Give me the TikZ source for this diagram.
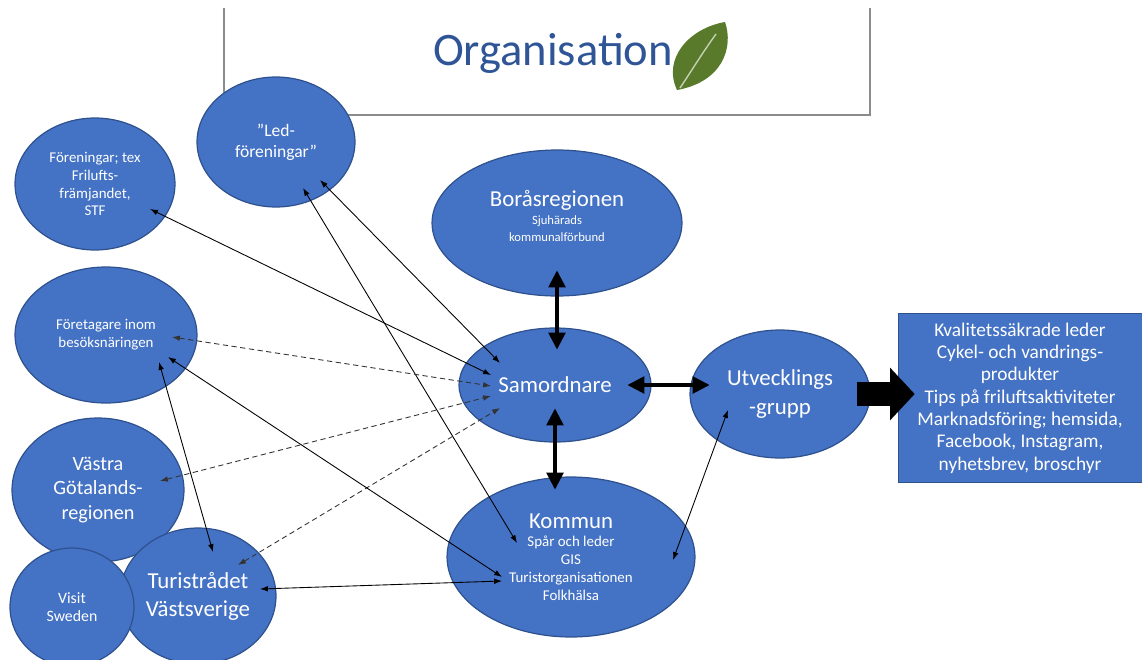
\documentclass[tikz,border=0pt]{standalone}
\usepackage{fontspec}
\setmainfont{Carlito}
\usetikzlibrary{shapes,arrows.meta,calc}
\definecolor{blobblue}{HTML}{4472C4}
\definecolor{blobedge}{HTML}{2F528F}
\definecolor{titleblue}{HTML}{2F5597}
\definecolor{leafgreen}{HTML}{587A2A}
\definecolor{framegray}{HTML}{8C8C8C}
\tikzset{
    blob/.style 2 args={ellipse, draw=blobedge, fill=blobblue, text=white, align=center,
        inner sep=0pt, line width=0.7pt, minimum width=#1*0.04cm, minimum height=#2*0.04cm},
    prodbox/.style={rectangle, draw=blobedge, fill=blobblue, text=white, align=center,
        inner sep=0pt, minimum width=244*0.02cm, minimum height=169*0.02cm,
        font=\fontsize{11}{12.7}\selectfont},
    smalltext/.style={font=\fontsize{8.5}{10.2}\selectfont},
    bigtext/.style={font=\fontsize{13}{16}\selectfont},
    titletext/.style={text=titleblue, inner sep=0pt, font=\fontsize{26.5}{30}\selectfont},
    frame/.style={draw=framegray, line width=0.6pt},
    leafvein/.style={draw=leafgreen!35!white, line width=0.8pt},
    link/.style={draw=black, line width=0.5pt,
        {Latex[length=4.5pt,width=3.2pt]}-{Latex[length=4.5pt,width=3.2pt]}},
    dashlink/.style={link, draw=black!80, dash pattern=on 3pt off 2pt},
    boldlink/.style={draw=black, line width=2.8pt,
        {Triangle[length=9.5pt,width=10pt,line width=0pt]}-{Triangle[length=9.5pt,width=10pt,line width=0pt]}},
    fatarrow/.style={draw=black, line width=14pt, -{Triangle[length=14pt,width=30pt,line width=0pt]}}
}
\begin{document}
\begin{tikzpicture}[x=0.02cm,y=-0.02cm]
	\useasboundingbox (0,0) rectangle (1142,659);
	\draw[frame] (224,8)--(224,115)--(870,115)--(870,8);
	\node[titletext] (title) at (553,53) {Organisation};
	\fill[leafgreen] (677,90) .. controls (662,58) and (690,28) .. (725,22) .. controls (734,48) and (722,82) .. (677,90);
	\draw[leafvein] (680,88) .. controls (692,70) and (703,52) .. (716,34);
	% ellipses
	\node[blob={80}{66}, smalltext] (fore) at (95,184) {Föreningar; tex\\Frilufts-\\främjandet,\\STF};
	\node[blob={79}{65}, font=\fontsize{10}{12}\selectfont] (led) at (276,142) {”Led-\\föreningar”};
	\node[blob={125}{73}, font=\fontsize{7.2}{10}\selectfont, text depth=8pt] (bor) at (557,223) {{\fontsize{13}{16}\selectfont Boråsregionen}\\Sjuhärads\\kommunalförbund};
	\node[blob={91}{68}, smalltext] (foret) at (106,335) {Företagare inom\\besöksnäringen};
	\node[blob={96}{57}, bigtext] (sam) at (555,385) {Samordnare};
	\node[blob={90}{64}, bigtext] (utv) at (780,394) {Utvecklings\\-grupp};
	\node[blob={86}{72}, font=\fontsize{11.5}{13.7}\selectfont] (vast) at (98,490) {Västra\\Götalands-\\regionen};
	\node[blob={78}{68}, bigtext] (turi) at (198,596) {Turistrådet\\Västsverige};
	\node[blob={62}{59}, font=\fontsize{9}{10.2}\selectfont] (visit) at (72,607) {Visit\\Sweden};
	\node[blob={124}{80}, smalltext] (kom) at (571,557) {{\fontsize{13}{16}\selectfont Kommun}\\Spår och leder\\GIS\\Turistorganisationen\\Folkhälsa};
	\node[prodbox] (prod) at (1020,398) {Kvalitetssäkrade leder\\Cykel- och vandrings-\\produkter\\Tips på friluftsaktiviteter\\Marknadsföring; hemsida,\\Facebook, Instagram,\\nyhetsbrev, broschyr};
	% thick arrows
	\draw[boldlink, shorten <=-0.52cm, shorten >=-0.44cm] (bor.south) -- (bor.south |- sam.north);
	\draw[boldlink, shorten <=-0.68cm, shorten >=-0.26cm] (sam.south) -- (sam.south |- kom.north);
	\draw[boldlink, shorten <=-0.48cm, shorten >=-0.4cm] (sam.east) -- (sam.east -| utv.west);
	\draw[fatarrow, shorten <=-0.28cm, shorten >=-0.34cm] (utv.east) -- (utv.east -| prod.west);
	% thin arrows
	\draw[link] ($(fore)+(55,25)$) -- ($(sam)+(-64,-10)$);
	\draw[link] ($(led)+(44,38)$) -- ($(sam)+(-55,-22)$);
	\draw[link] ($(led)+(27,46)$) -- ($(kom)+(-54,-14)$);
	\draw[dashlink] ($(foret)+(66,2)$) -- ($(sam)+(-64,1)$);
	\draw[dashlink] ($(vast)+(62,-9)$) -- ($(sam)+(-64,11)$);
	\draw[dashlink] ($(turi)+(40,-31)$) -- ($(sam)+(-55,23)$);
	\draw[link] ($(foret)+(62,22)$) -- ($(kom)+(-69,20)$);
	\draw[link] ($(foret)+(53,27)$) -- ($(turi)+(15,-44)$);
	\draw[link] ($(turi)+(62,-7)$) -- ($(kom)+(-69,24)$);
	\draw[link] ($(kom)+(102,3)$) -- ($(utv)+(-52,16)$);
\end{tikzpicture}
\end{document}
